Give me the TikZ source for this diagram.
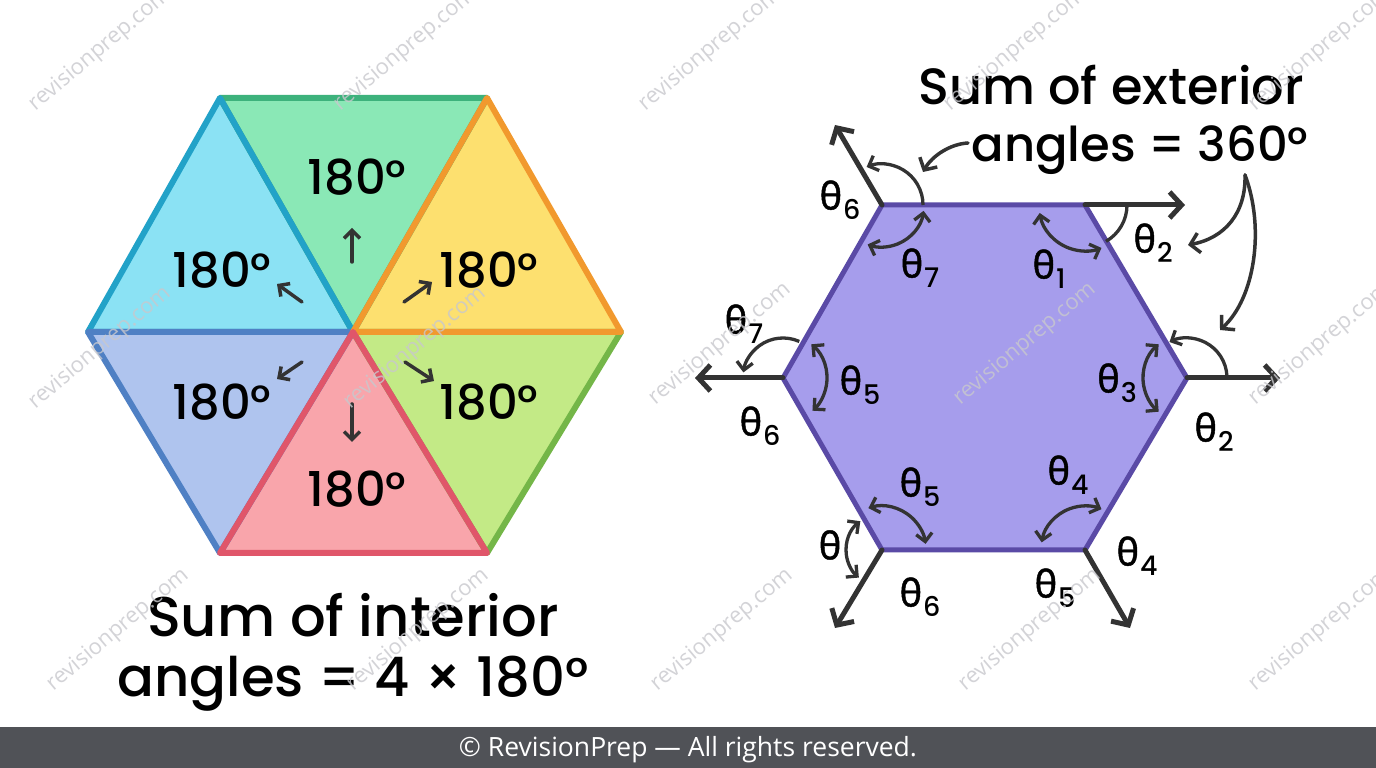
\documentclass[tikz,border=0pt]{standalone}
\usepackage{fontspec}
\setmainfont{Poppins Medium}
\newfontfamily\thf[FakeBold=1.2]{Noto Sans}
\newfontfamily\ftf{Open Sans}
\usetikzlibrary{arrows.meta}
\definecolor{cyanF}{HTML}{8BE2F4}\definecolor{cyanS}{HTML}{22A2C8}
\definecolor{grnF}{HTML}{8AE8B6}\definecolor{grnS}{HTML}{3DB27C}
\definecolor{yelF}{HTML}{FDE06F}\definecolor{yelS}{HTML}{F1992E}
\definecolor{lgrF}{HTML}{C3EA86}\definecolor{lgrS}{HTML}{74B648}
\definecolor{pnkF}{HTML}{F9A5AB}\definecolor{pnkS}{HTML}{E0566A}
\definecolor{lavF}{HTML}{AFC4EE}\definecolor{lavS}{HTML}{4F80C4}
\definecolor{purF}{HTML}{A69DEC}\definecolor{purS}{HTML}{5A4AA6}
\definecolor{ink}{HTML}{333333}
\definecolor{footbg}{HTML}{505257}
\definecolor{wm}{HTML}{C8C8CD}
\newcommand\thl[1]{{\thf θ}\kern1pt\raisebox{-10pt}{\fontsize{27}{27}\selectfont #1}}
\begin{document}
\begin{tikzpicture}[x=1pt,y=1pt,
  tri/.style={line width=6pt,line join=round},
  lbl/.style={font=\fontsize{48}{48}\selectfont,inner sep=0pt},
  ttl/.style={font=\fontsize{56}{56}\selectfont,inner sep=0pt,anchor=base},
  sarr/.style={draw=ink,line width=3.5pt,line cap=round,-{Straight Barb[length=8pt,width=16pt]}},
  ext/.style={draw=ink,line width=5pt,line cap=round,-{Straight Barb[length=12pt,width=26pt]}},
  arcd/.style={draw=ink,line width=3.3pt,{Straight Barb[length=8pt,width=16pt]}-{Straight Barb[length=8pt,width=16pt]}},
  arcs/.style={draw=ink,line width=3.3pt,-{Straight Barb[length=8pt,width=16pt]}},
  arcn/.style={draw=ink,line width=3.3pt},
  call/.style={draw=ink,line width=3.5pt,line cap=round,-{Straight Barb[length=9pt,width=20pt]}},
  th/.style={font=\fontsize{38}{38}\selectfont,inner sep=0pt},
  wmk/.style={font=\ftf\fontsize{22}{22}\selectfont,text=wm,rotate=40,opacity=0.8,inner sep=0pt}
]
\useasboundingbox (0,0) rectangle (1376,768);
\fill[white] (0,0) rectangle (1376,768);

% ---------- left hexagon ----------
\coordinate (L) at (88,436);
\coordinate (TL) at (220,670);
\coordinate (TR) at (487,670);
\coordinate (R) at (621,436);
\coordinate (BR) at (487,215);
\coordinate (BL) at (220,215);
\coordinate (C) at (353,436);
\fill[grnF] (TL)--(TR)--(C)--cycle;
\fill[lgrF] (R)--(BR)--(C)--cycle;
\fill[cyanF] (L)--(TL)--(C)--cycle;
\fill[lavF] (BL)--(L)--(C)--cycle;
\fill[yelF] (TR)--(R)--(C)--cycle;
\fill[pnkF] (BR)--(BL)--(C)--cycle;
\draw[tri,grnS] (TL)--(TR)--(C)--cycle;
\draw[tri,lgrS] (R)--(BR)--(C)--cycle;
\draw[tri,cyanS] (L)--(TL)--(C)--cycle;
\draw[tri,lavS] (BL)--(L)--(C)--cycle;
\draw[tri,yelS] (TR)--(R)--(C)--cycle;
\draw[tri,pnkS] (BR)--(BL)--(C)--cycle;

\node[lbl] (l1) at (222,498) {180°};
\node[lbl] (l2) at (357,591) {180°};
\node[lbl] (l3) at (489,498) {180°};
\node[lbl] (l4) at (222,366) {180°};
\node[lbl] (l5) at (489,366) {180°};
\node[lbl] (l6) at (357,279) {180°};

\coordinate (u1) at (352,506); \coordinate (u2) at (352,540);
\coordinate (ul1) at (302,466); \coordinate (ul2) at (277,484);
\coordinate (ur1) at (404,466); \coordinate (ur2) at (432,486);
\coordinate (dl1) at (302,406); \coordinate (dl2) at (277,389);
\coordinate (dr1) at (405,406); \coordinate (dr2) at (434,387);
\coordinate (d1) at (352,364); \coordinate (d2) at (352,326);
\draw[sarr] (u1)--(u2);
\draw[sarr] (ul1)--(ul2);
\draw[sarr] (ur1)--(ur2);
\draw[sarr] (dl1)--(dl2);
\draw[sarr] (dr1)--(dr2);
\draw[sarr] (d1)--(d2);

\node[ttl] (it1) at (353,131) {Sum of interior};
\node[ttl,font=\fontsize{54.5}{54.5}\selectfont] (it2) at (353,71) {angles = 4 × 180°};

% ---------- right hexagon ----------
\coordinate (A1) at (882,563);
\coordinate (A2) at (1085,563);
\coordinate (A3) at (1187,390);
\coordinate (A4) at (1085,218);
\coordinate (A5) at (882,218);
\coordinate (A6) at (783,390);
\draw[fill=purF,draw=purS,line width=5pt,line join=round] (A1)--(A2)--(A3)--(A4)--(A5)--(A6)--cycle;

\coordinate (E1) at (835,643);
\coordinate (E2) at (1185,563);
\coordinate (E3) at (1280,390);
\coordinate (E4) at (1130,140);
\coordinate (E5) at (835,140);
\coordinate (E6) at (695,390);
\draw[ext] (A1)--(E1);
\draw[ext] (A2)--(E2);
\draw[ext] (A3)--(E3);
\draw[ext] (A4)--(E4);
\draw[ext] (A5)--(E5);
\draw[ext] (A6)--(E6);

% arcs at A1
\draw[arcs] ([shift={(0:41)}]A1) arc[start angle=0,end angle=112,radius=41];
\draw[arcd] ([shift={(-8:42)}]A1) arc[start angle=-8,end angle=-110,radius=42];
% arcs at A2
\draw[arcd] ([shift={(190:46)}]A2) arc[start angle=190,end angle=291,radius=46];
\draw[arcn] ([shift={(0:42)}]A2) arc[start angle=0,end angle=-60,radius=42];
% arcs at A3
\draw[arcs] ([shift={(3:40)}]A3) arc[start angle=3,end angle=116,radius=40];
\draw[arcd] ([shift={(130:44)}]A3) arc[start angle=130,end angle=230,radius=44];
% arcs at A6
\draw[arcs] ([shift={(66:40)}]A6) arc[start angle=66,end angle=172,radius=40];
\draw[arcd] ([shift={(50:44)}]A6) arc[start angle=50,end angle=-48,radius=44];
% arcs at A5
\draw[arcd] ([shift={(108:44)}]A5) arc[start angle=108,end angle=8,radius=44];
\draw[arcd] ([shift={(127:36)}]A5) arc[start angle=127,end angle=230,radius=36];
% arcs at A4
\draw[arcd] ([shift={(170:44)}]A4) arc[start angle=170,end angle=68,radius=44];

% theta labels
\node[th] (t6a) at (840,568) {\thl{6}};
\node[th] (t7a) at (920,500) {\thl{7}};
\node[th] (t1) at (1049,499) {\thl{1}};
\node[th] (t2a) at (1153,525) {\thl{2}};
\node[th] (t7b) at (744,444) {\thl{7}};
\node[th] (t5a) at (860,383) {\thl{5}};
\node[th] (t6b) at (760,342) {\thl{6}};
\node[th] (t3) at (1117,385) {\thl{3}};
\node[th] (t2b) at (1214,336) {\thl{2}};
\node[th] (t5b) at (920,281) {\thl{5}};
\node[th] (t4a) at (1068,293) {\thl{4}};
\node[th] (t0) at (830,223) {\thf θ};
\node[th] (t6c) at (920,171) {\thl{6}};
\node[th] (t5c) at (1055,180) {\thl{5}};
\node[th] (t4b) at (1137,212) {\thl{4}};

% right title
\node[ttl,font=\fontsize{51}{51}\selectfont] (et1) at (1111,663) {Sum of exterior};
\node[ttl,font=\fontsize{48}{48}\selectfont] (et2) at (1140,606) {angles = 360°};

% callouts
\coordinate (c1s) at (968,625); \coordinate (c1e) at (923,596);
\draw[call] (c1s) .. controls (950,624) and (932,612) .. (c1e);
\coordinate (c2s) at (1245,593); \coordinate (c2e) at (1188,523);
\coordinate (c3e) at (1220,438);
\draw[call] (c2s) .. controls (1246,555) and (1225,530) .. (c2e);
\draw[call] (c2s) .. controls (1265,540) and (1255,470) .. (c3e);

% watermarks
\foreach \i/\x/\y in {1/100/718,2/405/718,3/710/718,4/1015/718,5/1320/718,
                      6/100/420,7/415/420,8/720/424,9/1025/424,10/1320/424,
                      11/118/138,12/418/138,13/722/138,14/1030/138,15/1320/138}{
  \node[wmk] (wm\i) at (\x,\y) {revisionprep.com};
}

% footer
\fill[footbg] (0,0) rectangle (1376,41);
\node[font=\ftf\fontsize{26.5}{26.5}\selectfont,text=white,anchor=base,inner sep=0pt] (foot) at (688,11) {© RevisionPrep — All rights reserved.};
\end{tikzpicture}
\end{document}
